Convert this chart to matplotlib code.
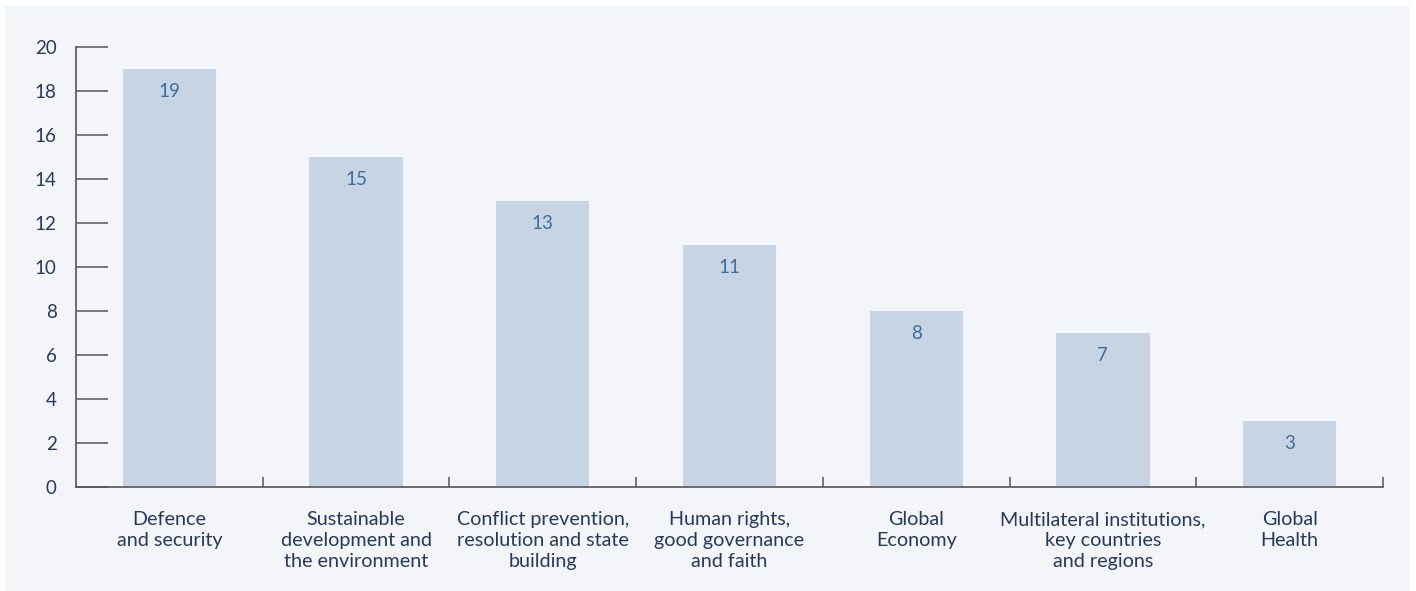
import matplotlib.pyplot as plt
from matplotlib.patches import Rectangle
from matplotlib.ticker import FixedLocator

categories = [
    "Defence\nand security",
    "Sustainable\ndevelopment and\nthe environment",
    "Conflict prevention,\nresolution and state\nbuilding",
    "Human rights,\ngood governance\nand faith",
    "Global\nEconomy",
    "Multilateral institutions,\nkey countries\nand regions",
    "Global\nHealth",
]
counts = [19, 15, 13, 11, 8, 7, 3]
y_ticks = [0, 2, 4, 6, 8, 10, 12, 14, 16, 18, 20]

panel_bg = "#f3f5f9"
bar_color = "#c6d4e3"
value_color = "#3e6f9c"
text_color = "#263a5e"
axis_color = "#555555"

plt.rcParams['font.family'] = ['Lato', 'DejaVu Sans']

fig = plt.figure(figsize=(14.16, 5.91), dpi=100, facecolor="white")
# light panel behind the chart
fig.patches.append(Rectangle((5 / 1416, 0), 1405 / 1416, 585 / 591,
                             transform=fig.transFigure, facecolor=panel_bg,
                             edgecolor="none", zorder=-10))

ax = fig.add_axes([76 / 1416, 104 / 591, 1307 / 1416, 440 / 591])
ax.set_facecolor("none")

x = list(range(len(categories)))
ax.bar(x, counts, width=0.5, color=bar_color, zorder=2)

for xi, v in zip(x, counts):
    ax.annotate(str(v), (xi, v), xytext=(0, -16.5), textcoords="offset points",
                ha="center", va="center", fontsize=13.5, color=value_color)

ax.set_xlim(-0.5, len(categories) - 0.5)
ax.set_ylim(0, 20)

ax.set_yticks(y_ticks)
ax.set_yticklabels([str(t) for t in y_ticks], fontsize=13.5, color=text_color)
ax.tick_params(axis="y", direction="in", length=23, width=1.1,
               color=axis_color, pad=14)

ax.set_xticks(x)
ax.set_xticklabels(categories, fontsize=14.2, color=text_color,
                   linespacing=1.27)
ax.tick_params(axis="x", which="major", length=0, pad=17.5)
ax.xaxis.set_minor_locator(FixedLocator([i + 0.5 for i in x]))
ax.tick_params(axis="x", which="minor", direction="in", length=7,
               width=1.1, color=axis_color)

for side in ("top", "right"):
    ax.spines[side].set_visible(False)
for side in ("left", "bottom"):
    ax.spines[side].set_color(axis_color)
    ax.spines[side].set_linewidth(1.2)

fig.savefig("out.png", dpi=100, facecolor=fig.get_facecolor())
